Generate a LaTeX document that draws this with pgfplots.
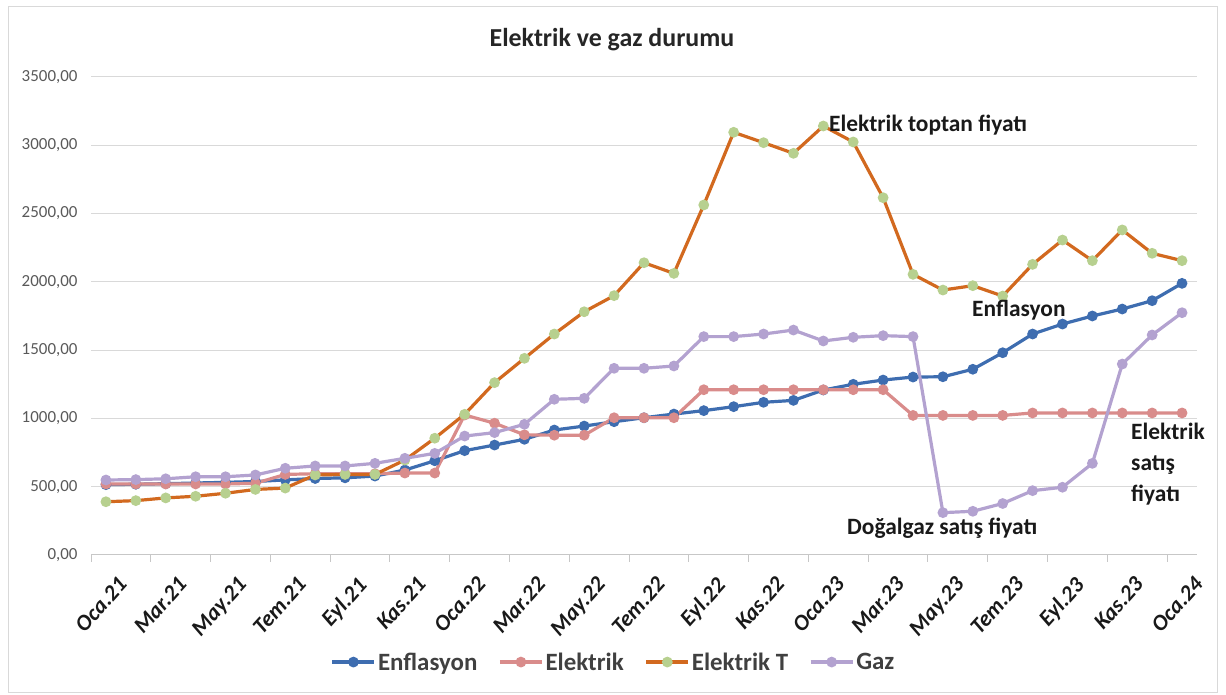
\documentclass[border=0pt]{standalone}
\usepackage{pgfplots}
\pgfplotsset{compat=1.18}
\usepackage{fontspec}
\setmainfont{Carlito}
\definecolor{cEnf}{HTML}{3E6DB0}
\definecolor{cEl}{HTML}{D98C8B}
\definecolor{cElT}{HTML}{D2691F}
\definecolor{cElTm}{HTML}{B7D08F}
\definecolor{cGaz}{HTML}{B3A2D0}
\definecolor{cGrid}{HTML}{D9D9D9}
\definecolor{cTick}{HTML}{595959}
\begin{document}
\begin{tikzpicture}[x=1bp,y=1bp]
\path[use as bounding box] (0,0) rectangle (1226,695);
\draw[cGrid, line width=1bp] (8,2) rectangle (1217,688);
\begin{axis}[
  at={(91bp,140bp)}, anchor=south west,
  scale only axis, width=1106bp, height=478bp,
  xmin=-0.5, xmax=36.5, ymin=0, ymax=3500,
  axis x line*=bottom, axis y line*=left,
  x axis line style={cGrid!80!gray, line width=1bp},
  y axis line style={draw=none},
  ytick={0,500,...,3500},
  yticklabels={{0,00},{500,00},{1000,00},{1500,00},{2000,00},{2500,00},{3000,00},{3500,00}},
  ymajorgrids, grid style={cGrid, line width=1bp},
  ytick style={draw=none},
  yticklabel style={font=\fontsize{17}{20}\selectfont, text=cTick, xshift=-10bp},
  xtick={0,2,...,36},
  xticklabels={Oca.21,Mar.21,May.21,Tem.21,Eyl.21,Kas.21,Oca.22,Mar.22,May.22,Tem.22,Eyl.22,Kas.22,Oca.23,Mar.23,May.23,Tem.23,Eyl.23,Kas.23,Oca.24},
  xticklabel style={yshift=-19bp, xshift=11bp, rotate=48, anchor=north east, inner sep=1bp, font=\fontsize{22.5}{25}\bfseries\itshape\selectfont, text=black!90},
  major x tick style={draw=none},
  extra x ticks={-0.5,1.5,...,35.5},
  extra x tick labels={},
  extra x tick style={major tick length=7bp, tick align=outside, major x tick style={draw=cGrid!80!gray, line width=1bp}, xmajorgrids=false},
  every axis plot/.append style={line width=3.2bp, mark=*, mark size=3.7bp},
  legend style={at={(0.4725,-0.224)}, anchor=center, draw=none, fill=none,
    font=\fontsize{25}{28}\bfseries\selectfont, text=black!75,
    /tikz/every even column/.append style={column sep=19bp},
    /tikz/every odd column/.append style={column sep=0bp},
    inner xsep=1bp},
  legend columns=4,
  legend image code/.code={\draw[mark repeat=2,mark phase=2,#1] plot coordinates {(0bp,0bp) (21bp,0bp) (42bp,0bp)};},
]
\addplot[color=cEnf, mark options={fill=cEnf, draw=cEnf}] coordinates {
(0,515)(1,518)(2,522)(3,527)(4,532)(5,538)(6,550)(7,560)(8,565)(9,578)
(10,622)(11,690)(12,764)(13,805)(14,847)(15,915)(16,944)(17,976)(18,1005)(19,1032)
(20,1057)(21,1086)(22,1118)(23,1132)(24,1208)(25,1250)(26,1281)(27,1303)(28,1305)(29,1360)
(30,1481)(31,1618)(32,1691)(33,1750)(34,1801)(35,1862)(36,1989)};
\addlegendentry{Enflasyon}
\addplot[color=cEl, mark options={fill=cEl, draw=cEl}] coordinates {
(0,520)(1,520)(2,520)(3,520)(4,520)(5,525)(6,590)(7,595)(8,595)(9,595)
(10,600)(11,600)(12,1025)(13,965)(14,880)(15,877)(16,877)(17,1005)(18,1005)(19,1005)
(20,1210)(21,1210)(22,1210)(23,1210)(24,1210)(25,1210)(26,1210)(27,1022)(28,1022)(29,1022)
(30,1022)(31,1040)(32,1040)(33,1040)(34,1040)(35,1040)(36,1040)};
\addlegendentry{Elektrik}
\addplot[color=cElT, mark options={fill=cElTm, draw=cElTm}] coordinates {
(0,390)(1,398)(2,418)(3,430)(4,452)(5,480)(6,490)(7,586)(8,590)(9,590)
(10,695)(11,855)(12,1030)(13,1262)(14,1440)(15,1618)(16,1781)(17,1899)(18,2140)(19,2062)
(20,2563)(21,3095)(22,3019)(23,2941)(24,3141)(25,3024)(26,2616)(27,2055)(28,1940)(29,1972)
(30,1896)(31,2128)(32,2306)(33,2155)(34,2380)(35,2209)(36,2155)};
\addlegendentry{Elektrik T}
\addplot[color=cGaz, mark options={fill=cGaz, draw=cGaz}] coordinates {
(0,549)(1,552)(2,558)(3,573)(4,573)(5,586)(6,635)(7,652)(8,652)(9,671)
(10,708)(11,744)(12,871)(13,896)(14,957)(15,1140)(16,1147)(17,1367)(18,1367)(19,1384)
(20,1599)(21,1599)(22,1618)(23,1647)(24,1567)(25,1594)(26,1606)(27,1599)(28,310)(29,320)
(30,377)(31,471)(32,496)(33,671)(34,1398)(35,1611)(36,1774)};
\addlegendentry{Gaz}
\end{axis}
\node[anchor=base, font=\fontsize{26}{30}\bfseries\selectfont, text=black!85] at (612,648) {Elektrik ve gaz durumu};
\begin{scope}[every node/.style={anchor=base west, inner sep=0pt, font=\fontsize{23.5}{27}\bfseries\selectfont, text=black!90}]
\node at (829,563) {Elektrik toptan fiyatı};
\node at (972,378) {Enflasyon};
\node at (1131,255) {Elektrik};
\node at (1131,224) {satış};
\node at (1131,193) {fiyatı};
\node at (847,160) {Doğalgaz satış fiyatı};
\end{scope}
\end{tikzpicture}
\end{document}
